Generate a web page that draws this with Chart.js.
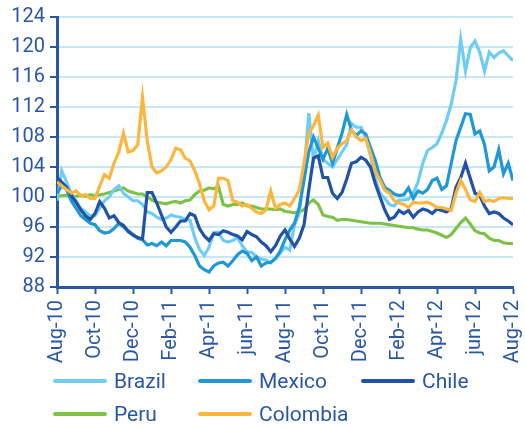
<!DOCTYPE html>
<html>
<head>
<meta charset="utf-8">
<script src="https://cdn.jsdelivr.net/npm/chart.js@4.4.1/dist/chart.umd.min.js"></script>
<style>
  body { margin: 0; background: #fff; }
  #wrap { position: relative; width: 525px; height: 428px; }
  #legend {
    position: absolute; left: 53px; top: 366px;
    display: grid; grid-template-columns: 145px 163px auto;
    row-gap: 3px;
    font-family: Roboto, sans-serif; font-size: 21px; color: #2a57a5;
  }
  .item { display: flex; align-items: center; height: 30px; }
  .swatch { width: 54px; height: 4px; border-radius: 2px; margin-right: 7px; }
</style>
</head>
<body>
<div id="wrap">
  <canvas id="canvas" width="525" height="428"></canvas>
  <div id="legend"></div>
</div>
<script>
// x axis: one point per quarter month, Aug-10 .. Aug-12
var xLabels = ['Aug-10', 'Oct-10', 'Dec-10', 'Feb-11', 'Apr-11', 'jun-11', 'Aug-11',
               'Oct-11', 'Dec-11', 'Feb-12', 'Apr-12', 'jun-12', 'Aug-12'];
var yTicks = [88, 92, 96, 100, 104, 108, 112, 116, 120, 124];

var brazil = [99.5, 103.5, 102, 100.5, 99.5, 98.5, 98, 97.5, 97.5, 98.5, 99.5, 100, 101, 101.5, 100.5, 100,
  99.5, 99.5, 99, 98, 97.8, 97.3, 97, 97.2, 97.6, 97.4, 97.3, 97, 96.9, 94.6, 93, 92.2,
  93.3, 95.3, 95.3, 94.2, 94, 94.2, 94.6, 93.5, 92.7, 92.6, 92, 91.7, 91.6, 91.2, 91.8, 92.5,
  93.3, 92.9, 96.3, 97.8, 103.1, 111.2, 104.9, 107.5, 105, 104.5, 104, 105, 106, 107, 109.8, 109.3,
  109.3, 108, 105.5, 102.5, 100.5, 99.8, 99, 98.8, 99.6, 99.6, 99.7, 100.5, 102, 104.5, 106.2, 106.6,
  107.1, 108.5, 110.2, 112.4, 115.5, 121, 116.8, 119.9, 120.8, 119.3, 116.8, 119.3, 118.6, 119.2, 119.5, 118.8,
  118.2];

var mexico = [100.5, 101.5, 101, 99.5, 98.5, 97.5, 97, 96.5, 96.3, 95.5, 95.2, 95.3, 95.8, 96.5, 96, 95.5,
  95, 94.5, 94.3, 93.6, 93.8, 93.5, 94, 93.5, 94.2, 94.2, 94.2, 94, 93.3, 92.2, 90.8, 90.3,
  90, 90.8, 91.2, 91.3, 90.8, 91.5, 92.3, 92.8, 92.5, 91.5, 92, 90.8, 91.2, 91.3, 91.8, 92.8,
  94.3, 95.6, 96.5, 98.6, 102.2, 106, 108, 106.5, 105, 106.5, 104.5, 106.5, 108.5, 111, 108.9, 108.2,
  108.8, 108.4, 106.6, 104.9, 102.6, 101.3, 100.9, 100.4, 100.2, 100.3, 101.2, 99.8, 100.8, 100.5, 101, 102.2,
  102.5, 101, 101.5, 104.5, 107.5, 109.3, 111.1, 111, 108.4, 108.8, 107, 103.5, 104, 106.3, 103.1, 104.5,
  102.2];

var chile = [102.6, 102, 101.3, 100.2, 99.3, 98.3, 97.5, 97, 97.8, 99.4, 98.5, 97.2, 97.5, 96.6, 96.2, 95.4,
  94.9, 94.6, 94.4, 100.6, 100.6, 99.2, 97.6, 96, 95.3, 96, 96.8, 96.8, 97.8, 97.5, 95.8, 94.8,
  94.2, 95.1, 95, 95.5, 95.3, 95, 94.8, 94.3, 95.4, 95, 94.7, 94, 93.5, 92.7, 93.5, 94.8,
  95.6, 94.4, 93.4, 94.5, 96.3, 100.9, 105.2, 105.5, 102.6, 102.6, 100.5, 99.8, 100.6, 102.4, 104.5, 104.7,
  105.3, 104.9, 104, 101.8, 100, 98.3, 97, 97.3, 98.2, 97.8, 98.2, 97.3, 98, 98.4, 98.2, 97.8,
  98.4, 98.2, 98, 98.5, 101.3, 102.6, 104.5, 102.5, 100.5, 100.2, 98.8, 97.8, 98, 97.8, 97.2, 96.8,
  96.3];

var peru = [100, 100.2, 100.2, 100.1, 100.1, 100.2, 100.1, 100.3, 100.2, 100.3, 100.4, 100.6, 100.8, 101, 101.2, 100.8,
  100.6, 100.4, 100.4, 100, 99.6, 99.3, 99.2, 99.1, 99.3, 99.4, 99.2, 99.5, 99.6, 100.3, 100.8, 100.9,
  101.2, 101.1, 101.4, 99, 98.8, 99, 99, 99.2, 98.8, 98.8, 98.6, 98.4, 98.4, 98.4, 98.3, 98.4,
  98.1, 98, 97.9, 98, 98.3, 99.2, 99.6, 99, 97.6, 97.4, 97.3, 96.9, 97, 97, 96.9, 96.8,
  96.7, 96.6, 96.5, 96.5, 96.5, 96.4, 96.3, 96.2, 96.1, 96, 95.9, 95.9, 95.7, 95.6, 95.6, 95.4,
  95.2, 94.9, 94.6, 95, 95.8, 96.6, 97.2, 96.4, 95.5, 95.2, 95.1, 94.5, 94.2, 94.2, 93.9, 93.8,
  93.8];

var colombia = [102, 101.5, 101, 100.5, 100.8, 100.2, 100.3, 99.8, 99.8, 101.5, 103, 102.5, 104.5, 106, 108.5, 106,
  106.2, 107, 113.3, 107.5, 104, 103.2, 103.5, 104, 105, 106.5, 106.3, 105.2, 104.8, 103.5, 101.8, 99.5,
  98.3, 98.8, 102.5, 102.5, 102.2, 99.5, 99.3, 98.8, 99, 98.5, 98, 97.8, 98.3, 100.8, 98.5, 99,
  99.2, 98.8, 99.8, 100.9, 104.5, 108.5, 109.5, 110.9, 106.6, 107.2, 105.3, 106.5, 107.1, 107.5, 108.9, 108,
  107.5, 107.8, 105.8, 103.5, 102.2, 100.9, 100.5, 99.5, 99.2, 99, 98.6, 99.3, 99.2, 99.2, 99.3, 99,
  98.6, 98.6, 98.4, 98.2, 100.5, 102.2, 101, 99.6, 99.4, 100.6, 99.4, 99.6, 99.4, 99.8, 99.9, 99.8,
  99.8];

var textColor = '#2a57a5';
var gridColor = '#c8e7f6';

function points(values) {
  return values.map(function(v, i) { return { x: i / 4, y: v }; });
}

var datasets = [
  { label: 'Brazil', data: points(brazil), borderColor: '#6fcdf4', order: 3 },
  { label: 'Mexico', data: points(mexico), borderColor: '#1f98d5', order: 2 },
  { label: 'Chile', data: points(chile), borderColor: '#2152a3', order: 1 },
  { label: 'Peru', data: points(peru), borderColor: '#7dc245', order: 4 },
  { label: 'Colombia', data: points(colombia), borderColor: '#fcb63e', order: 0 }
];
datasets.forEach(function(d) {
  d.borderWidth = 3.2;
  d.pointRadius = 0;
  d.fill = false;
  d.tension = 0;
});

Chart.defaults.font.family = 'Roboto, sans-serif';
Chart.defaults.color = textColor;

var chart = new Chart(document.getElementById('canvas'), {
  type: 'line',
  data: { datasets: datasets },
  options: {
    responsive: false,
    animation: false,
    layout: { padding: { left: 0, top: 16, right: 12, bottom: 58 } },
    plugins: { legend: { display: false }, tooltip: { enabled: false } },
    scales: {
      x: {
        type: 'linear',
        min: 0,
        max: 24,
        afterFit: function(scale) {
          scale.height = 83;
          scale.paddingLeft = 0;
          scale.paddingRight = 0;
        },
        afterBuildTicks: function(scale) {
          scale.ticks = xLabels.map(function(l, i) { return { value: i * 2 }; });
        },
        ticks: {
          font: { size: 20 },
          color: textColor,
          minRotation: 90,
          maxRotation: 90,
          padding: 6,
          autoSkip: false,
          callback: function(v) { return xLabels[v / 2]; }
        },
        grid: {
          drawOnChartArea: false,
          drawTicks: true,
          tickLength: 7,
          tickColor: textColor,
          tickWidth: 2
        },
        border: { color: textColor, width: 3 }
      },
      y: {
        min: 88,
        max: 124,
        afterFit: function(scale) { scale.width = 57; },
        afterBuildTicks: function(scale) {
          scale.ticks = yTicks.map(function(v) { return { value: v }; });
        },
        ticks: { font: { size: 20 }, color: textColor, padding: 5 },
        grid: {
          color: gridColor,
          lineWidth: 2,
          drawTicks: true,
          tickLength: 7,
          tickColor: textColor,
          tickWidth: 2
        },
        border: { color: textColor, width: 3 }
      }
    }
  }
});

// legend, built from the datasets
var legend = document.getElementById('legend');
chart.data.datasets.forEach(function(d) {
  var item = document.createElement('div');
  item.className = 'item';
  item.innerHTML = '<span class="swatch" style="background:' + d.borderColor + '"></span>' + d.label;
  legend.appendChild(item);
});
</script>
</body>
</html>
